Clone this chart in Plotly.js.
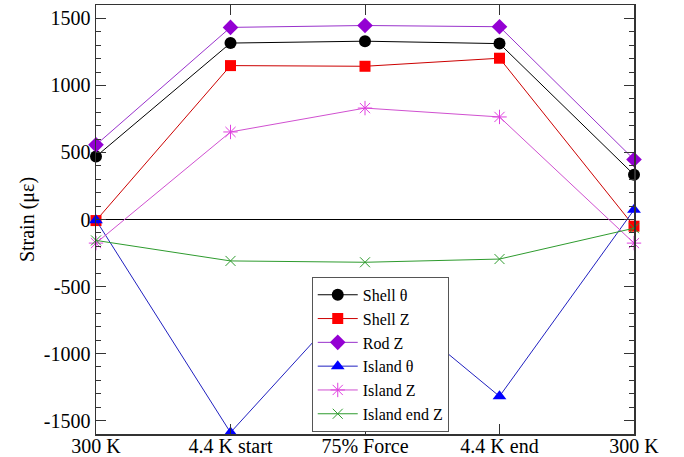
<!DOCTYPE html>
<html>
<head>
<meta charset="utf-8">
<script src="https://cdn.plot.ly/plotly-3.0.1.min.js"></script>
<style>html,body{margin:0;padding:0;background:#fff;}#chart{width:684px;height:457px;}</style>
</head>
<body>
<div id="chart"></div>
<script>
const xPos = [0, 1, 2, 3, 4];
const tickLabels = ["300 K", "4.4 K start", "75% Force", "4.4 K end", "300 K"];

const shellTheta = [470, 1316, 1330, 1312, 334];
const shellZ = [-8, 1148, 1143, 1203, -50];
const rodZ = [557, 1433, 1447, 1438, 448];
const islandTheta = [-5, -1589, -490, -1319, 72];
const islandZ = [-176, 653, 831, 765, -176];
const islandEndZ = [-156, -309, -319, -295, -65];

const seriesNames = ["Shell θ", "Shell Z", "Rod Z", "Island θ", "Island Z", "Island end Z"];
const seriesData = [shellTheta, shellZ, rodZ, islandTheta, islandZ, islandEndZ];
const lineColors = ["#000000", "#cc0000", "#9932cc", "#2020c0", "#d050d0", "#2e9b2e"];
const markerColors = ["#000000", "#ff0000", "#9400d3", "#0000ff", "#e040e0", "#2e9b2e"];
const symbols = ["circle", "square", "diamond", "triangle-up", "asterisk-open", "x-thin-open"];
const sizes = [12, 11, 12, 12, 12, 10];

const SERIF = "Liberation Serif";

const traces = seriesData.map((ys, i) => ({
  x: xPos,
  y: ys,
  name: seriesNames[i],
  type: "scatter",
  mode: "lines+markers",
  cliponaxis: false,
  line: {color: lineColors[i], width: 1},
  marker: {symbol: symbols[i], size: sizes[i], color: markerColors[i],
           line: {color: markerColors[i], width: (i >= 4 ? 1 : 0)}}
}));

const layout = {
  width: 684, height: 457,
  margin: {l: 96, r: 50, t: 5, b: 23, pad: 0},
  paper_bgcolor: "#fff", plot_bgcolor: "#fff",
  font: {family: SERIF, size: 20, color: "#000"},
  showlegend: true,
  legend: {
    x: 0.401, y: 0.005, xanchor: "left", yanchor: "bottom",
    bgcolor: "#fff", bordercolor: "#555", borderwidth: 1,
    font: {family: SERIF, size: 16, color: "#000"},
    tracegroupgap: 0, itemwidth: 40
  },
  xaxis: {
    automargin: false,
    range: [0, 4], tickvals: xPos, ticktext: tickLabels,
    showgrid: false, zeroline: false,
    showline: true, linecolor: "#333", linewidth: 1.5, mirror: "ticks",
    ticks: "inside", ticklen: 10, tickcolor: "#333", tickwidth: 1,
    ticklabelstandoff: -7,
    tickfont: {family: SERIF, size: 20, color: "#000"}
  },
  yaxis: {
    automargin: false,
    range: [-1600, 1600], tickvals: [-1500, -1000, -500, 0, 500, 1000, 1500],
    ticktext: ["-1500", "-1000", "-500", "0", "500", "1000", "1500"],
    showgrid: false, zeroline: true, zerolinecolor: "#000", zerolinewidth: 1,
    showline: true, linecolor: "#333", linewidth: 1.5, mirror: "ticks",
    ticks: "inside", ticklen: 10, tickcolor: "#333", tickwidth: 1,
    minor: {dtick: 100, ticks: "inside", ticklen: 5, tickcolor: "#333", tickwidth: 1, showgrid: false},
    tickfont: {family: SERIF, size: 20, color: "#000"},
    title: {text: "Strain (με)", font: {family: SERIF, size: 20, color: "#000"}, standoff: 4}
  }
};

Plotly.newPlot("chart", traces, layout, {displayModeBar: false, staticPlot: true});
</script>
</body>
</html>
